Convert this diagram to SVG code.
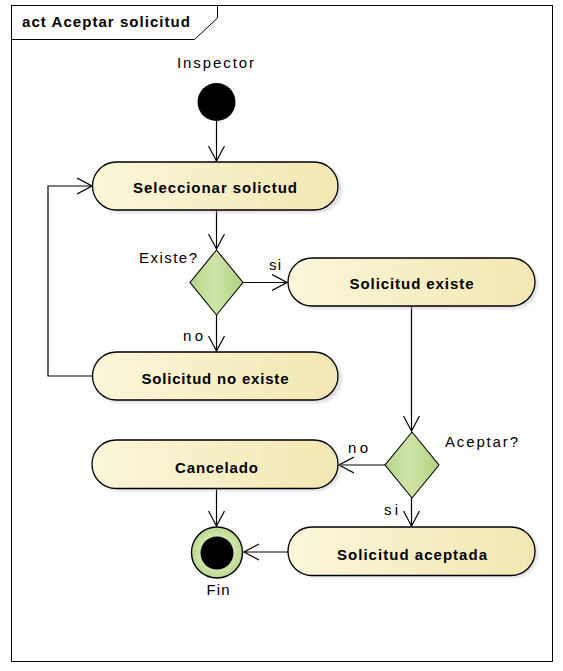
<svg xmlns="http://www.w3.org/2000/svg" width="563" height="671" viewBox="0 0 563 671">
  <style>
    .frame { fill: #ffffff; stroke: #000000; stroke-width: 1; }
    .act { fill: url(#actFill); stroke: #000000; stroke-width: 1.3; }
    .shadow { fill: #b8b8b8; opacity: 0.45; filter: url(#soft); }
    .dec { fill: url(#decFill); stroke: #000000; stroke-width: 1.1; }
    .title { font-family: "Liberation Sans", Arial, sans-serif; font-weight: bold; font-size: 15px; fill: #000; }
    .lbl { font-family: "Liberation Sans", Arial, sans-serif; font-weight: bold; font-size: 15px; fill: #000; }
    .note { font-family: "Liberation Sans", Arial, sans-serif; font-size: 15px; fill: #000; }
    .conn { fill: none; stroke: #000000; stroke-width: 1.2; }
    .head { fill: none; stroke: #000000; stroke-width: 1.2; }
  </style>
  <defs>
    <linearGradient id="actFill" x1="0" y1="0" x2="1" y2="0">
      <stop offset="0" stop-color="#fbf6da"/>
      <stop offset="1" stop-color="#f2e7b2"/>
    </linearGradient>
    <linearGradient id="decFill" x1="0" y1="0" x2="1" y2="0">
      <stop offset="0" stop-color="#b5d488"/>
      <stop offset="0.45" stop-color="#cfe5a8"/>
      <stop offset="1" stop-color="#b1d180"/>
    </linearGradient>
    <radialGradient id="finFill" cx="0.5" cy="0.5" r="0.5">
      <stop offset="0.6" stop-color="#d3e8b0"/>
      <stop offset="1" stop-color="#bcd98e"/>
    </radialGradient>
    <filter id="soft" x="-10%" y="-30%" width="120%" height="160%">
      <feGaussianBlur stdDeviation="1.5"/>
    </filter>
    <marker id="open" markerWidth="16" markerHeight="18" refX="15" refY="9" orient="auto" markerUnits="userSpaceOnUse">
      <path d="M0,1 L15,9 L0,17" class="head"/>
    </marker>
  </defs>

  <!-- frame and title tab -->
  <g id="frame">
    <rect class="frame" x="11.5" y="5.5" width="541" height="656"/>
    <path d="M11.5,39.5 L194.5,39.5 L217.5,18 L217.5,5.5" fill="none" stroke="#000" stroke-width="1"/>
    <text class="title" x="22" y="26.5" textLength="168" lengthAdjust="spacing">act Aceptar solicitud</text>
  </g>

  <!-- connectors -->
  <g id="connectors">
    <line class="conn" x1="216.5" y1="121" x2="216.5" y2="161" marker-end="url(#open)"/>
    <line class="conn" x1="216.5" y1="210" x2="216.5" y2="249" marker-end="url(#open)"/>
    <line class="conn" x1="243" y1="282.5" x2="287" y2="282.5" marker-end="url(#open)"/>
    <line class="conn" x1="216.5" y1="315" x2="216.5" y2="351" marker-end="url(#open)"/>
    <polyline class="conn" points="93,376 48,376 48,186 92,186" marker-end="url(#open)"/>
    <line class="conn" x1="411.5" y1="306" x2="411.5" y2="431" marker-end="url(#open)"/>
    <line class="conn" x1="385" y1="465" x2="339" y2="465" marker-end="url(#open)"/>
    <line class="conn" x1="411.5" y1="498" x2="411.5" y2="526" marker-end="url(#open)"/>
    <line class="conn" x1="216.5" y1="489" x2="216.5" y2="526" marker-end="url(#open)"/>
    <line class="conn" x1="288" y1="552" x2="244" y2="552" marker-end="url(#open)"/>
    <text class="note" x="269" y="269.5" textLength="12" lengthAdjust="spacing">si</text>
    <text class="note" x="183" y="341" textLength="20" lengthAdjust="spacing">no</text>
    <text class="note" x="348" y="452.5" textLength="20" lengthAdjust="spacing">no</text>
    <text class="note" x="384" y="515" textLength="14" lengthAdjust="spacing">si</text>
  </g>

  <!-- initial node -->
  <g id="inicio">
    <circle cx="216.5" cy="102" r="19" fill="#000"/>
    <text class="note" x="177" y="68" textLength="77" lengthAdjust="spacing">Inspector</text>
  </g>

  <g id="seleccionar">
    <rect class="shadow" x="96" y="165" width="246" height="48" rx="24"/>
    <rect class="act" x="92.5" y="162" width="245.5" height="48" rx="24"/>
    <text class="lbl" x="133" y="193" textLength="164" lengthAdjust="spacing">Seleccionar solictud</text>
  </g>

  <g id="existe-dec">
    <polygon class="dec" points="216.5,250 243,282.5 216.5,315 190,282.5"/>
    <text class="note" x="139" y="263" textLength="58" lengthAdjust="spacing">Existe?</text>
  </g>

  <g id="solicitud-existe">
    <rect class="shadow" x="291" y="261" width="247" height="48" rx="24"/>
    <rect class="act" x="288" y="258" width="247" height="48" rx="24"/>
    <text class="lbl" x="349.5" y="288.5" textLength="124" lengthAdjust="spacing">Solicitud existe</text>
  </g>

  <g id="solicitud-no-existe">
    <rect class="shadow" x="96" y="355" width="246" height="48" rx="24"/>
    <rect class="act" x="92.5" y="352" width="245.5" height="48" rx="24"/>
    <text class="lbl" x="141.5" y="384" textLength="147" lengthAdjust="spacing">Solicitud no existe</text>
  </g>

  <g id="aceptar-dec">
    <polygon class="dec" points="412,432 439,465 412,498 385,465"/>
    <text class="note" x="445" y="446.5" textLength="73" lengthAdjust="spacing">Aceptar?</text>
  </g>

  <g id="cancelado">
    <rect class="shadow" x="95" y="443" width="246" height="48" rx="24"/>
    <rect class="act" x="92" y="440" width="246" height="48.5" rx="24"/>
    <text class="lbl" x="175" y="472.5" textLength="83" lengthAdjust="spacing">Cancelado</text>
  </g>

  <g id="solicitud-aceptada">
    <rect class="shadow" x="291" y="530" width="247" height="48" rx="24"/>
    <rect class="act" x="288" y="527" width="247" height="48.5" rx="24"/>
    <text class="lbl" x="337" y="560" textLength="150" lengthAdjust="spacing">Solicitud aceptada</text>
  </g>

  <!-- final node -->
  <g id="fin">
    <circle cx="217" cy="552.5" r="25.5" fill="url(#finFill)" stroke="#000" stroke-width="1.4"/>
    <circle cx="217" cy="553" r="16.5" fill="#000"/>
    <text class="note" x="206.5" y="595" textLength="23" lengthAdjust="spacing">Fin</text>
  </g>
</svg>
